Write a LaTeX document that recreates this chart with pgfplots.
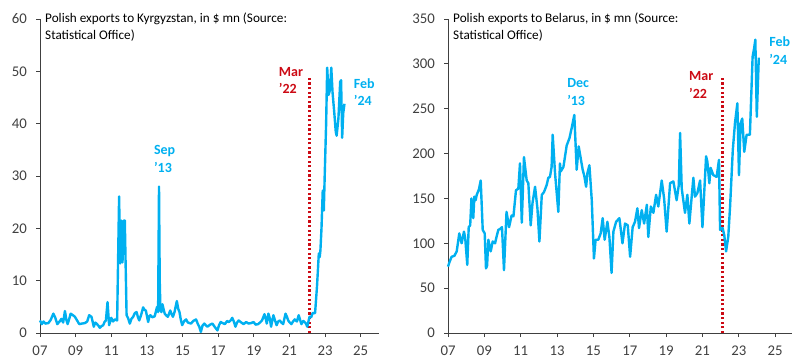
\documentclass[border=0pt]{standalone}
\usepackage{pgfplots}
\pgfplotsset{compat=1.18}
\usepackage{fontspec}
\setmainfont{Carlito}
\definecolor{lineblue}{RGB}{0,176,240}
\definecolor{marred}{RGB}{204,10,20}
\definecolor{axgray}{RGB}{64,64,64}
\begin{document}
\begin{tikzpicture}
\useasboundingbox (0,0) rectangle (800pt,360pt);
\pgfplotsset{
  myax/.style={
    scale only axis,
    anchor=south west,
    height=314pt,
    axis lines=left,
    axis line style={-,draw=axgray,line width=0.9pt},
    tick style={draw=axgray,line width=0.9pt},
    tick align=outside,
    major tick length=4pt,
    xmin=2007,
    xtick={2007,2009,2011,2013,2015,2017,2019,2021,2023,2025},
    xticklabels={07,09,11,13,15,17,19,21,23,25},
    tick label style={font=\fontsize{14.8}{16}\selectfont, text=axgray},
    /pgf/number format/assume math mode=true,
    x tick label style={inner sep=0pt, yshift=-9pt},
    y tick label style={inner sep=0pt, xshift=-9pt},
    ymin=0,
    clip=false,
  },
}
\tikzset{
  lbl/.style={anchor=west, align=left, inner sep=0pt, font=\bfseries\fontsize{14}{17.5}\selectfont},
  ttl/.style={anchor=north west, align=left, inner sep=0pt, font=\fontsize{13.2}{17}\selectfont, xshift=5pt, yshift=6pt},
}
% Left chart: Kyrgyzstan
\begin{axis}[myax, at={(40pt,27pt)}, width=338.5pt, xmax=2026, ymax=60, ytick={0,10,20,30,40,50,60}]
\addplot[marred, line width=2.8pt, dash pattern=on 2.3pt off 2.3pt] coordinates {(2022.14,0) (2022.14,48.8)};
\addplot[lineblue, line width=2.4pt, line join=round] coordinates {
(2007.0,2.4)(2007.1,1.7)(2007.2,2.2)(2007.3,1.8)(2007.47,1.9)(2007.6,2.5)(2007.75,3.7)(2007.85,3.0)(2007.97,1.7)(2008.1,2.2)(2008.2,2.7)(2008.3,2.0)(2008.4,4.2)(2008.48,2.5)(2008.55,1.7)(2008.65,2.8)(2008.72,3.7)(2008.85,3.4)(2008.96,3.1)(2009.1,2.3)(2009.2,1.7)(2009.35,1.8)(2009.52,1.9)(2009.65,2.2)(2009.76,3.4)(2009.89,3.1)(2010.02,1.2)(2010.1,2.0)(2010.17,1.8)(2010.28,1.4)(2010.36,1.0)(2010.45,1.3)(2010.55,1.5)(2010.62,2.1)(2010.7,2.4)(2010.79,5.9)(2010.88,1.5)(2011.0,2.9)(2011.1,2.2)(2011.2,2.6)(2011.33,2.4)(2011.44,26.1)(2011.5,13.3)(2011.56,21.5)(2011.63,13.5)(2011.7,21.5)(2011.76,21.5)(2011.86,3.4)(2011.95,2.8)(2012.04,1.8)(2012.13,2.7)(2012.23,3.1)(2012.32,3.8)(2012.42,4.0)(2012.5,3.0)(2012.57,2.4)(2012.68,3.5)(2012.79,4.9)(2012.87,4.4)(2012.94,4.3)(2013.07,2.1)(2013.14,3.2)(2013.2,3.4)(2013.3,3.0)(2013.44,3.2)(2013.57,5.0)(2013.63,4.0)(2013.68,28.0)(2013.72,10)(2013.76,4.4)(2013.82,4.0)(2013.87,5.5)(2014.0,3.7)(2014.1,3.3)(2014.18,3.1)(2014.31,4.3)(2014.4,3.5)(2014.46,3.1)(2014.55,4.0)(2014.68,6.1)(2014.76,4.6)(2014.83,4.0)(2014.9,2.6)(2014.98,1.5)(2015.1,2.3)(2015.2,2.6)(2015.3,2.0)(2015.48,1.8)(2015.6,2.3)(2015.76,2.6)(2015.85,1.8)(2015.94,1.2)(2016.03,0.2)(2016.12,1.4)(2016.22,1.8)(2016.3,1.5)(2016.4,1.2)(2016.55,1.6)(2016.68,1.8)(2016.8,1.2)(2016.96,0.5)(2017.05,1.5)(2017.14,2.1)(2017.25,1.9)(2017.38,1.7)(2017.5,2.3)(2017.6,2.1)(2017.7,2.4)(2017.79,2.9)(2017.88,2.2)(2017.97,1.2)(2018.06,2.0)(2018.15,2.4)(2018.3,2.0)(2018.43,1.7)(2018.57,2.1)(2018.71,1.8)(2018.85,1.9)(2018.99,2.1)(2019.1,1.6)(2019.24,1.7)(2019.35,2.0)(2019.46,2.4)(2019.6,3.6)(2019.67,2.7)(2019.73,1.8)(2019.82,3.7)(2019.9,2.8)(2019.97,1.2)(2020.1,3.4)(2020.2,2.3)(2020.28,1.5)(2020.37,2.2)(2020.46,2.4)(2020.55,2.0)(2020.65,1.7)(2020.78,3.7)(2020.85,3.2)(2020.93,2.4)(2021.02,2.0)(2021.11,1.7)(2021.2,2.2)(2021.3,2.6)(2021.42,2.2)(2021.52,3.4)(2021.6,2.5)(2021.67,1.7)(2021.78,2.3)(2021.85,2.1)(2021.93,1.8)(2022.0,1.2)(2022.13,3.1)(2022.22,3.0)(2022.3,3.8)(2022.44,3.8)(2022.55,9.0)(2022.65,15.2)(2022.7,14.5)(2022.74,15.8)(2022.8,20.0)(2022.87,27.2)(2022.93,23.4)(2022.98,30.0)(2023.06,40.0)(2023.12,50.7)(2023.2,45.5)(2023.28,46.5)(2023.35,50.7)(2023.42,46)(2023.52,42)(2023.6,38.5)(2023.65,37.7)(2023.75,41)(2023.85,48)(2023.9,48.3)(2023.96,37.3)(2024.02,42)(2024.09,43.8)
};
\node[ttl] at (rel axis cs:0,1) {Polish exports to Kyrgyzstan, in \$ mn (Source:\\Statistical Office)};
\node[lbl, text=lineblue] at (axis cs:2013.39,33.25) {Sep\\'13};
\node[lbl, text=marred] at (axis cs:2020.4,48.3) {Mar\\'22};
\node[lbl, text=lineblue] at (axis cs:2024.61,46.05) {Feb\\'24};
\end{axis}
% Right chart: Belarus
\begin{axis}[myax, at={(448pt,27pt)}, width=343.5pt, xmax=2025.9, ymax=350, ytick={0,50,100,150,200,250,300,350}]
\addplot[marred, line width=2.8pt, dash pattern=on 2.3pt off 2.3pt] coordinates {(2022.12,0) (2022.12,284)};
\addplot[lineblue, line width=2.4pt, line join=round] coordinates {
(2007.0,74)(2007.1,80)(2007.2,85)(2007.35,86)(2007.48,91)(2007.62,111)(2007.75,100)(2007.88,113)(2007.95,105)(2008.06,76)(2008.14,118)(2008.22,120)(2008.29,150)(2008.39,128)(2008.45,152)(2008.52,148)(2008.58,154)(2008.7,160)(2008.8,170)(2008.91,115)(2009.02,111)(2009.09,72)(2009.15,75)(2009.22,104)(2009.35,91)(2009.46,102)(2009.59,100)(2009.68,108)(2009.77,115)(2009.87,116)(2009.97,118)(2010.08,70)(2010.22,135)(2010.36,118)(2010.5,131)(2010.6,130)(2010.74,159)(2010.87,161)(2010.96,189)(2011.06,123)(2011.18,196)(2011.33,170)(2011.42,167)(2011.55,120)(2011.65,145)(2011.79,163)(2011.92,139)(2012.03,102)(2012.16,154)(2012.28,157)(2012.43,165)(2012.52,173)(2012.61,174)(2012.7,185)(2012.76,221)(2012.89,178)(2013.07,135)(2013.16,189)(2013.2,180)(2013.35,185)(2013.53,209)(2013.68,217)(2013.8,228)(2013.95,243)(2014.08,182)(2014.19,208)(2014.3,195)(2014.41,182)(2014.5,175)(2014.6,163)(2014.67,178)(2014.78,187)(2014.91,148)(2015.03,83)(2015.12,104)(2015.27,104)(2015.4,111)(2015.51,128)(2015.62,104)(2015.77,124)(2015.88,107)(2016.0,67)(2016.1,113)(2016.25,124)(2016.43,128)(2016.6,100)(2016.74,122)(2016.89,120)(2017.02,85)(2017.16,118)(2017.29,124)(2017.42,139)(2017.51,117)(2017.66,137)(2017.79,122)(2017.94,143)(2018.02,107)(2018.16,141)(2018.3,134)(2018.45,154)(2018.57,141)(2018.76,170)(2018.89,150)(2019.03,113)(2019.22,167)(2019.4,169)(2019.58,148)(2019.7,165)(2019.77,223)(2019.86,161)(2020.04,134)(2020.17,154)(2020.28,122)(2020.4,150)(2020.5,173)(2020.59,152)(2020.72,156)(2020.87,170)(2021.0,118)(2021.2,197)(2021.27,191)(2021.38,167)(2021.45,184)(2021.6,176)(2021.78,174)(2021.91,193)(2021.97,115)(2022.11,117)(2022.2,109)(2022.3,91)(2022.42,107)(2022.52,141)(2022.67,204)(2022.79,234)(2022.92,256)(2023.01,176)(2023.1,234)(2023.19,239)(2023.3,202)(2023.43,221)(2023.61,221)(2023.76,308)(2023.84,317)(2023.91,327)(2023.99,241)(2024.1,307)
};
\node[ttl] at (rel axis cs:0,1) {Polish exports to Belarus, in \$ mn (Source:\\Statistical Office)};
\node[lbl, text=lineblue] at (axis cs:2013.55,268.6) {Dec\\'13};
\node[lbl, text=marred] at (axis cs:2020.26,276.4) {Mar\\'22};
\node[lbl, text=lineblue] at (axis cs:2024.67,314.9) {Feb\\'24};
\end{axis}
\end{tikzpicture}
\end{document}
